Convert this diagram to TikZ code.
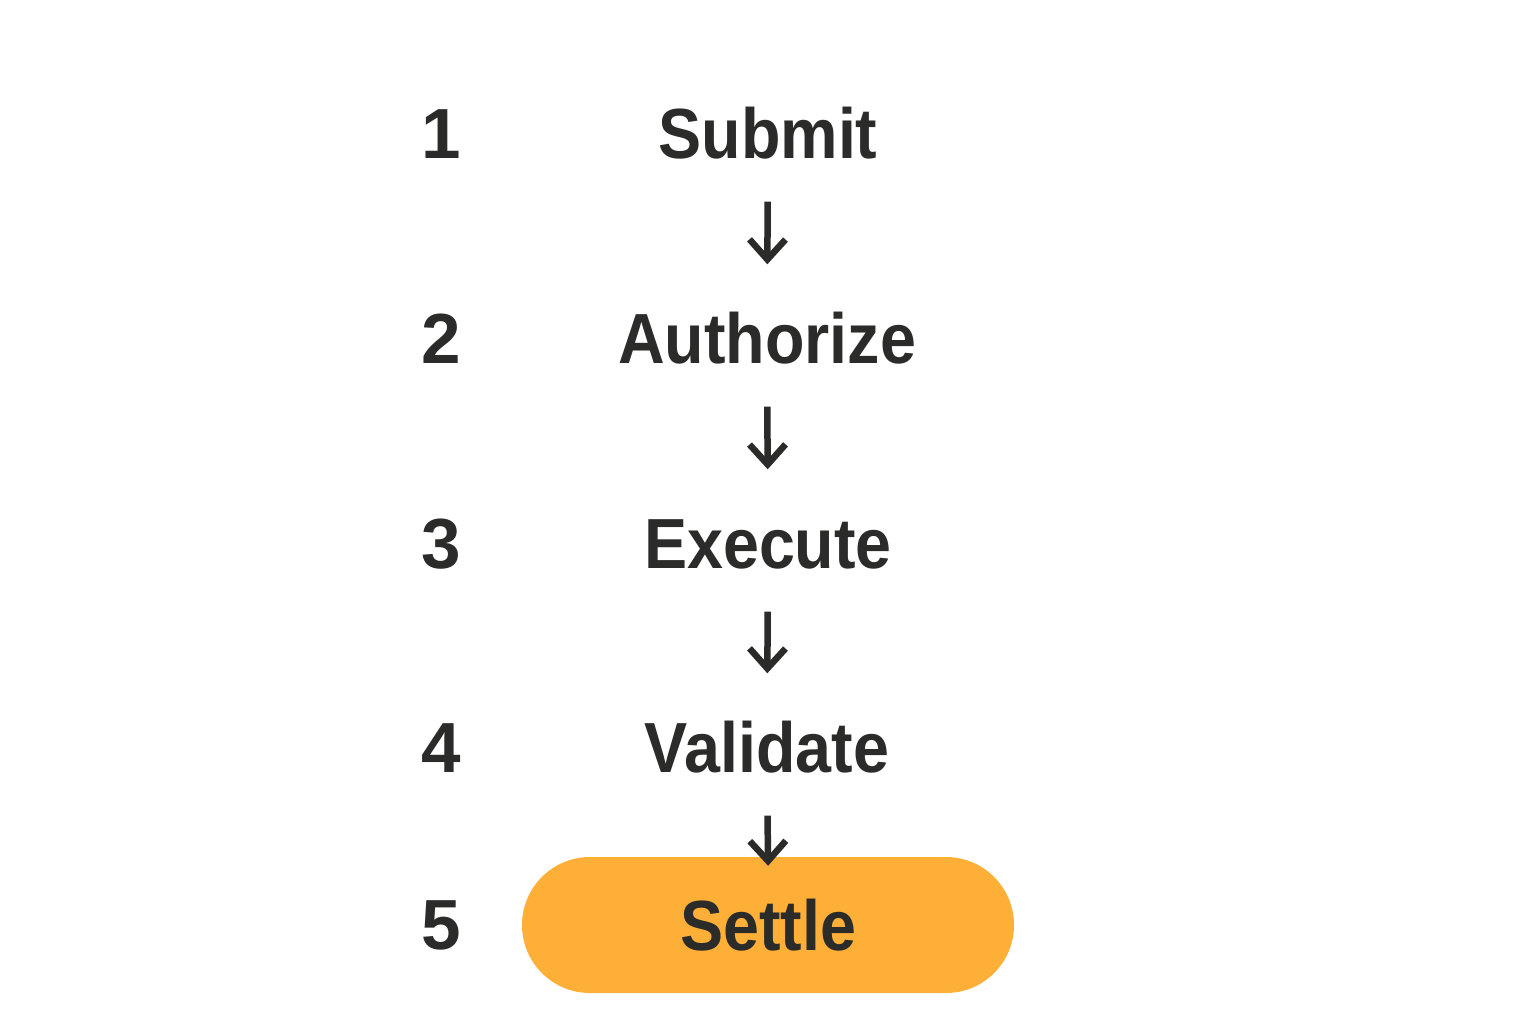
\documentclass[tikz,border=0pt]{standalone}
\usepackage{fontspec}
\setmainfont{Liberation Sans}[FakeStretch=0.91]
\newfontfamily\numfont{Liberation Sans}
\usetikzlibrary{arrows.meta}
\definecolor{ink}{HTML}{2B2B29}
\definecolor{pillorange}{HTML}{FDAF37}
\begin{document}
\begin{tikzpicture}[x=1pt,y=-1pt,
  lbl/.style={inner sep=0pt, text height=51pt, text depth=0pt, text=ink,
    font=\fontsize{71}{80}\selectfont\bfseries},
  num/.style={inner sep=0pt, text height=51pt, text depth=0pt, text=ink,
    font=\numfont\fontsize{71}{80}\selectfont\bfseries},
  flow/.style={draw=ink, line width=6.5pt,
    -{Straight Barb[length=20pt,width=36pt,line width=6.5pt,line join=miter,line cap=butt]}},
  pill/.style={fill=pillorange, rounded corners=68pt, minimum width=492pt,
    minimum height=136pt}]
\useasboundingbox[fill=white] (0,0) rectangle (1536,1024);
\node[num] (n1) at (441,133) {1};
\node[num] (n2) at (441,338) {2};
\node[num] (n3) at (441,543) {3};
\node[num] (n4) at (441,747) {4};
\node[num] (n5) at (441,924) {5};
\node[lbl] (s1) at (768,133) {Submit};
\node[lbl] (s2) at (767,338) {Authorize};
\node[lbl] (s3) at (768,543) {Execute};
\node[lbl] (s4) at (767,747) {Validate};
\node[lbl, pill] (s5) at (768,925) {Settle};
\draw[flow, shorten <=43pt, shorten >=48pt] (s1.south) -- (s2.north);
\draw[flow, shorten <=43pt, shorten >=48pt] (s2.south) -- (s3.north);
\draw[flow, shorten <=43pt, shorten >=48pt] (s3.south) -- (s4.north);
\draw[flow, shorten <=43pt, shorten >=-9pt] (s4.south) -- (s5.north);
\end{tikzpicture}
\end{document}
